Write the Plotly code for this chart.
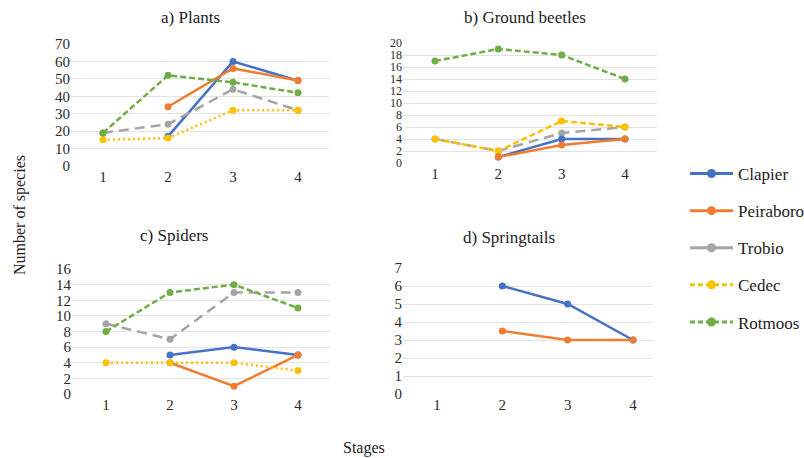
import plotly.graph_objects as go

stages = [1, 2, 3, 4]
series = ["Clapier", "Peiraboro", "Trobio", "Cedec", "Rotmoos"]
colors = {"Clapier": "#4472C4", "Peiraboro": "#ED7D31", "Trobio": "#A5A5A5",
          "Cedec": "#FFC000", "Rotmoos": "#70AD47"}

# a) Plants
plants_clapier = [None, 17, 60, 49]
plants_peiraboro = [None, 34, 56, 49]
plants_trobio = [19, 24, 44, 32]
plants_cedec = [15, 16, 32, 32]
plants_rotmoos = [19, 52, 48, 42]

# b) Ground beetles
beetles_clapier = [None, 1, 4, 4]
beetles_peiraboro = [None, 1, 3, 4]
beetles_trobio = [4, 2, 5, 6]
beetles_cedec = [4, 2, 7, 6]
beetles_rotmoos = [17, 19, 18, 14]

# c) Spiders
spiders_clapier = [None, 5, 6, 5]
spiders_peiraboro = [None, 4, 1, 5]
spiders_trobio = [9, 7, 13, 13]
spiders_cedec = [4, 4, 4, 3]
spiders_rotmoos = [8, 13, 14, 11]

# d) Springtails
springtails_clapier = [None, 6, 5, 3]
springtails_peiraboro = [None, 3.5, 3, 3]

titles = ["a) Plants", "b) Ground beetles", "c) Spiders", "d) Springtails"]
y_max = [70, 20, 16, 7]
y_dtick = [10, 2, 2, 1]
y_font = [15, 12, 15, 15]

W, H = 804, 458
FONT = "Liberation Serif"
TXT = "#2a2a2a"

# panel geometry in pixels: left, right, x of stage1, x of stage4, top(ymax), bottom(0)
geom = [
    (71, 329, 103, 298, 44, 166),
    (403, 657, 435, 625, 43, 163),
    (72, 330, 106, 298, 269, 394),
    (403, 653, 437, 633, 268, 394),
]

dash_solid = "solid"
dash_long = "10px,6px"
dash_med = "6px,3px"
dash_dot = "2px,3px"

panels = [
    [("Clapier", plants_clapier, dash_solid), ("Peiraboro", plants_peiraboro, dash_solid),
     ("Trobio", plants_trobio, dash_long), ("Cedec", plants_cedec, dash_dot),
     ("Rotmoos", plants_rotmoos, dash_med)],
    [("Rotmoos", beetles_rotmoos, dash_med), ("Trobio", beetles_trobio, dash_long),
     ("Cedec", beetles_cedec, dash_med), ("Clapier", beetles_clapier, dash_solid),
     ("Peiraboro", beetles_peiraboro, dash_solid)],
    [("Clapier", spiders_clapier, dash_solid), ("Peiraboro", spiders_peiraboro, dash_solid),
     ("Trobio", spiders_trobio, dash_long), ("Cedec", spiders_cedec, dash_dot),
     ("Rotmoos", spiders_rotmoos, dash_med)],
    [("Clapier", springtails_clapier, dash_solid), ("Peiraboro", springtails_peiraboro, dash_solid)],
]

fig = go.Figure()
layout = {}
annotations = []
for i, (g, traces) in enumerate(zip(geom, panels)):
    left, right, t1, t4, top, bottom = g
    sp = (t4 - t1) / 3.0
    xr = [1 - (t1 - left) / sp, 4 + (right - t4) / sp]
    n = "" if i == 0 else str(i + 1)
    layout["xaxis" + n] = dict(
        domain=[left / W, right / W], range=xr, tickvals=stages, ticktext=[str(s) for s in stages],
        showgrid=False, zeroline=False, showline=False, ticks="", anchor="y" + n,
        tickfont=dict(family=FONT, size=15, color=TXT), fixedrange=True, automargin=False,
    )
    layout["yaxis" + n] = dict(
        domain=[1 - bottom / H, 1 - top / H], range=[0, y_max[i]], dtick=y_dtick[i],
        showgrid=True, gridcolor="#E3E3E3", gridwidth=1, zeroline=False, showline=False,
        ticks="", anchor="x" + n, tickfont=dict(family=FONT, size=y_font[i], color=TXT),
        fixedrange=True, automargin=False,
    )
    for name, vals, dash in traces:
        fig.add_trace(go.Scatter(
            x=stages, y=vals, mode="lines+markers", name=name, legendgroup=name,
            showlegend=False, xaxis="x" + n, yaxis="y" + n,
            line=dict(color=colors[name], width=2.5, dash=dash),
            marker=dict(color=colors[name], size=7),
        ))

legend_dash = {"Clapier": "solid", "Peiraboro": "solid", "Trobio": "solid",
               "Cedec": "5px,3px", "Rotmoos": "5px,3px"}
for name in series:
    fig.add_trace(go.Scatter(
        x=[None], y=[None], mode="lines+markers", name=name, legendgroup=name,
        showlegend=True, line=dict(color=colors[name], width=3, dash=legend_dash[name]),
        marker=dict(color=colors[name], size=9),
    ))

title_pos = [(190, 18), (525, 18), (174, 235), (509, 237)]
for t, (px, py) in zip(titles, title_pos):
    annotations.append(dict(text=t, x=px / W, y=1 - py / H, xref="paper", yref="paper",
                            showarrow=False, xanchor="center", yanchor="middle",
                            font=dict(family=FONT, size=17, color="#222")))
annotations.append(dict(text="Number of species", x=20 / W, y=1 - 215 / H, xref="paper", yref="paper",
                        showarrow=False, textangle=-90, xanchor="center", yanchor="middle",
                        font=dict(family=FONT, size=16, color="#222")))
annotations.append(dict(text="Stages", x=364 / W, y=1 - 448 / H, xref="paper", yref="paper",
                        showarrow=False, xanchor="center", yanchor="middle",
                        font=dict(family=FONT, size=16, color="#222")))

fig.update_layout(
    width=W, height=H, margin=dict(l=0, r=0, t=0, b=0, autoexpand=False),
    paper_bgcolor="white", plot_bgcolor="white",
    annotations=annotations,
    legend=dict(x=685 / W, y=1 - 156 / H, xanchor="left", yanchor="top",
                font=dict(family=FONT, size=17, color="#222"), tracegroupgap=12,
                itemwidth=43, bgcolor="rgba(0,0,0,0)"),
    **layout,
)

fig.write_html("out.html", config={"displayModeBar": False},
               post_script="document.body.style.margin='0px';document.body.style.overflow='hidden';")
